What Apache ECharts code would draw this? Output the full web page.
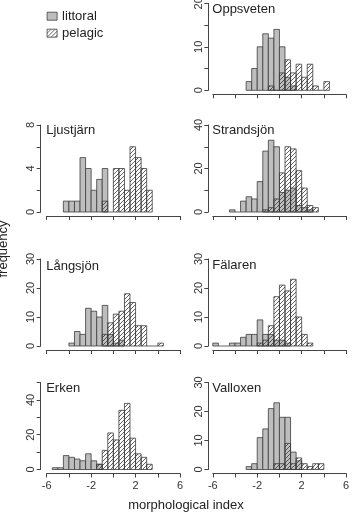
<!DOCTYPE html>
<html><head><meta charset="utf-8">
<script src="https://cdn.jsdelivr.net/npm/echarts@6/dist/echarts.min.js"></script>
<style>html,body{margin:0;padding:0;background:#fff}#c{width:353px;height:513px}</style>
</head><body><div id="c"></div>
<script>
// ---------------- data ----------------
const BIN = 0.5;
const binStarts = [-6,-5.5,-5,-4.5,-4,-3.5,-3,-2.5,-2,-1.5,-1,-0.5,0,0.5,1,1.5,2,2.5,3,3.5,4,4.5,5,5.5];
const lakeNames = ['Oppsveten','Ljustjärn','Strandsjön','Långsjön','Fälaren','Erken','Valloxen'];

const oppsvetenLittoral  = [0,0,0,0,0,0,2,5,10,13,12,14,10,3,1,0,0,0,0,0,0,0,0,0];
const oppsvetenPelagic   = [0,0,0,0,0,0,0,0,0,0,1,0,4,7,4,6,3,6,1,0,2,0,0,0];
const ljustjarnLittoral  = [0,0,0,1,1,1,5,4,2,3,4,0,0,0,0,0,0,0,0,0,0,0,0,0];
const ljustjarnPelagic   = [0,0,0,0,0,0,0,0,0,0,1,0,4,4,2,6,5,4,2,0,0,0,0,0];
const strandsjonLittoral = [0,0,0,1,0,5,7,6,14,28,33,30,9,10,11,3,2,1,0,0,0,0,0,0];
const strandsjonPelagic  = [0,0,0,0,0,0,0,0,0,1,2,6,18,30,29,19,11,3,2,0,0,0,0,0];
const langsjonLittoral   = [0,0,0,0,1,5,4,13,12,10,14,4,1,2,0,0,0,0,0,0,0,0,0,0];
const langsjonPelagic    = [0,0,0,0,0,0,0,0,0,0,4,8,11,12,18,15,7,7,0,0,1,0,0,0];
const falarenLittoral    = [1,0,0,1,1,3,4,4,9,4,4,2,2,1,0,0,0,0,0,0,0,0,0,0];
const falarenPelagic     = [0,0,0,0,0,0,0,0,1,2,7,17,21,19,23,10,4,1,0,0,0,0,0,0];
const erkenLittoral      = [0,1,1,8,7,6,5,9,5,3,0,0,0,0,0,0,0,0,0,0,0,0,0,0];
const erkenPelagic       = [0,0,0,0,0,0,0,0,0,3,11,21,17,34,38,18,9,7,3,0,0,0,0,0];
const valloxenLittoral   = [0,0,0,0,0,0,1,2,11,14,21,23,18,18,6,3,0,0,0,0,0,0,0,0];
const valloxenPelagic    = [0,0,0,0,0,0,0,0,0,0,0,2,2,9,2,4,2,1,2,2,0,0,0,0];

const littoralSets = [oppsvetenLittoral, ljustjarnLittoral, strandsjonLittoral, langsjonLittoral, falarenLittoral, erkenLittoral, valloxenLittoral];
const pelagicSets  = [oppsvetenPelagic, ljustjarnPelagic, strandsjonPelagic, langsjonPelagic, falarenPelagic, erkenPelagic, valloxenPelagic];

const yMaxes      = [20, 8, 40, 30, 30, 50, 30];
const yTickSteps  = [5, 2, 10, 10, 10, 10, 10];
const yLabelSteps = [10, 4, 20, 10, 10, 20, 10];
const xLabelValues = [-6, -2, 2, 6];

// ---------------- layout ----------------
const FONT = "'Liberation Sans', Arial, Helvetica, sans-serif";
const colLeft = [212.8, 46.7];
const panelCol = [0, 1, 0, 1, 0, 1, 0];
const panelTop = [3.3, 125, 125, 259, 259, 382.5, 382.5];
const panelBottomRow = [false, false, false, false, false, true, true];
const titleTop = [2.5, 124, 123.5, 259.5, 258.5, 381.5, 381.5];
const PW = 133.3, PH = 87;
const yOffset = [4.5, 6];

function makeHatch() {
  const s = 4;
  const cv = document.createElement('canvas');
  cv.width = s; cv.height = s;
  const ctx = cv.getContext('2d');
  ctx.strokeStyle = '#3a3a3a'; ctx.lineWidth = 0.8;
  ctx.beginPath();
  ctx.moveTo(0, s); ctx.lineTo(s, 0);
  ctx.moveTo(-1, 1); ctx.lineTo(1, -1);
  ctx.moveTo(s - 1, s + 1); ctx.lineTo(s + 1, s - 1);
  ctx.stroke();
  return cv;
}
const hatch = { image: makeHatch(), repeat: 'repeat' };
const GRAY = '#bebebe', EDGE = '#3c3c3c';

function histRender(counts, fill) {
  let first = counts.findIndex(v => v > 0);
  let last = counts.length - 1 - [...counts].reverse().findIndex(v => v > 0);
  return function (params, api) {
    const j = params.dataIndex;
    if (j < first || j > last) return null;
    const x0 = api.value(0), c = api.value(1);
    const p0 = api.coord([x0, 0]);
    const p1 = api.coord([x0 + BIN, c]);
    if (!c) {
      return { type: 'line', shape: { x1: p0[0], y1: p0[1], x2: p1[0], y2: p0[1] },
               style: { stroke: EDGE, lineWidth: 0.8 } };
    }
    return { type: 'rect',
      shape: { x: p0[0], y: p1[1], width: p1[0] - p0[0], height: p0[1] - p1[1] },
      style: { fill: fill, stroke: EDGE, lineWidth: 0.8 } };
  };
}

const grids = [], xAxes = [], yAxes = [], series = [], titles = [];
lakeNames.forEach((name, i) => {
  const col = panelCol[i];
  grids.push({ left: colLeft[col], top: panelTop[i], width: PW, height: PH,
               containLabel: false, outerBoundsMode: 'none' });
  xAxes.push({ gridIndex: i, type: 'value', min: -6, max: 6, interval: 2, offset: 4,
    axisLine: { show: true, onZero: false, lineStyle: { color: '#444', width: 1 } },
    axisTick: { show: true, length: 4, inside: false, lineStyle: { color: '#444', width: 1 } },
    axisLabel: { show: panelBottomRow[i], margin: 7, fontSize: 11, color: '#333', fontFamily: FONT,
      hideOverlap: false, showMinLabel: true, showMaxLabel: true,
      formatter: v => xLabelValues.includes(v) ? String(v) : '' },
    splitLine: { show: false } });
  const ls = yLabelSteps[i];
  yAxes.push({ gridIndex: i, type: 'value', min: 0, max: yMaxes[i], interval: yTickSteps[i],
    offset: yOffset[col],
    axisLine: { show: true, onZero: false, lineStyle: { color: '#444', width: 1 } },
    axisTick: { show: true, length: 4, inside: false, lineStyle: { color: '#444', width: 1 } },
    axisLabel: { show: true, rotate: 90, margin: 4, fontSize: 11, color: '#333', fontFamily: FONT,
      hideOverlap: false, showMinLabel: true, showMaxLabel: true,
      formatter: v => (v % ls === 0) ? String(v) : '' },
    splitLine: { show: false } });
  const lit = littoralSets[i], pel = pelagicSets[i];
  series.push({ type: 'custom', name: 'littoral', xAxisIndex: i, yAxisIndex: i,
    encode: { x: 0, y: 1 }, silent: true, itemStyle: { color: GRAY },
    data: binStarts.map((b, j) => [b, lit[j]]), renderItem: histRender(lit, GRAY) });
  series.push({ type: 'custom', name: 'pelagic', xAxisIndex: i, yAxisIndex: i,
    encode: { x: 0, y: 1 }, silent: true, itemStyle: { color: '#fff' },
    data: binStarts.map((b, j) => [b, pel[j]]), renderItem: histRender(pel, hatch) });
  titles.push({ text: name, left: colLeft[col] - 0.5, top: titleTop[i], padding: 0,
    textStyle: { fontSize: 13, fontWeight: 'normal', color: '#222', fontFamily: FONT, lineHeight: 13 } });
});

const chart = echarts.init(document.getElementById('c'), null, { renderer: 'canvas' });
chart.setOption({
  animation: false,
  backgroundColor: '#fff',
  title: titles,
  grid: grids, xAxis: xAxes, yAxis: yAxes, series: series,
  legend: {
    orient: 'vertical', left: 46.7, top: 9.7, padding: 0, itemGap: 4,
    itemWidth: 10, itemHeight: 8, selectedMode: false,
    textStyle: { fontSize: 13, color: '#222', fontFamily: FONT, lineHeight: 13 },
    data: [
      { name: 'littoral', icon: 'rect', itemStyle: { color: GRAY, borderColor: EDGE, borderWidth: 0.8 } },
      { name: 'pelagic', icon: 'rect', itemStyle: { color: hatch, borderColor: EDGE, borderWidth: 0.8 } }
    ]
  },
  graphic: [
    { type: 'text', x: 186, y: 505.5, style: { text: 'morphological index', font: '13px ' + FONT,
      fill: '#222', align: 'center', verticalAlign: 'middle' } },
    { type: 'text', x: 3, y: 249, rotation: Math.PI / 2, style: { text: 'frequency', font: '13px ' + FONT,
      fill: '#222', align: 'center', verticalAlign: 'middle' } }
  ]
});
</script></body></html>
